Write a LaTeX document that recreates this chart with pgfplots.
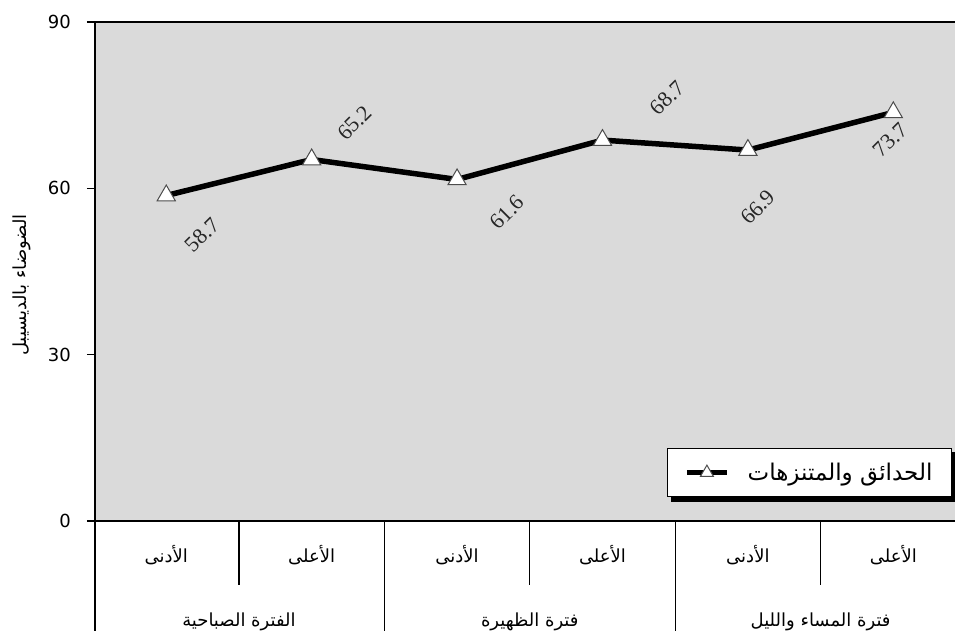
\documentclass[border=0pt]{standalone}
\usepackage{pgfplots}
\pgfplotsset{compat=1.18}
\usepackage{pgfplotstable}
\usepackage{fontspec}
\setmainfont{DejaVu Sans}
\newfontfamily\arabicfont[Script=Arabic]{DejaVu Sans}
\newfontfamily\labfont{Liberation Serif}
\TeXXeTstate=1
\definecolor{bgray}{RGB}{218,218,218}

\pgfplotstableread{
x y
0 58.7
1 65.2
2 61.6
3 68.7
4 66.9
5 73.7
}\noise
\pgfplotstableread{
lx ly lab
0.248 51.6 58.7
1.296 71.8 65.2
2.344 55.7 61.6
3.447 76.3 68.7
4.069 56.6 66.9
4.979 68.7 73.7
}\labels

\begin{document}
\begin{tikzpicture}
\begin{axis}[
  scale only axis, width=871bp, height=499bp,
  xmin=-0.49, xmax=5.5, ymin=0, ymax=90,
  clip=false,
  axis background/.style={fill=bgray},
  axis line style={line width=1.5bp, black},
  xtick={0,...,5},
  xticklabels={{\arabicfont\beginR الأدنى\endR},{\arabicfont\beginR الأعلى\endR},{\arabicfont\beginR الأدنى\endR},{\arabicfont\beginR الأعلى\endR},{\arabicfont\beginR الأدنى\endR},{\arabicfont\beginR الأعلى\endR}},
  xtick style={draw=none},
  ytick={0,30,60,90},
  ytick pos=left,
  tick align=outside,
  major tick length=8bp,
  ytick style={line width=1.2bp, black},
  /pgf/number format/assume math mode=true,
  ticklabel style={font=\fontsize{18bp}{20bp}\selectfont},
  yticklabel style={anchor=east, inner sep=0pt, xshift=-16bp},
  xticklabel style={anchor=center, inner sep=0pt, yshift=-26bp},
  ylabel={{\arabicfont\beginR الضوضاء بالديسيبل\endR}},
  every axis y label/.style={at={(rel axis cs:0,0.473)}, xshift=-73bp, rotate=90, anchor=center,
     font=\fontsize{18bp}{21bp}\selectfont},
  legend style={name=leg, at={(0.984,0.1463)}, anchor=north east, draw=black, line width=1.3bp, fill=white,
     font=\fontsize{23bp}{25bp}\selectfont, inner xsep=17bp, inner ysep=12.5bp},
  legend cell align=left,
  legend image code/.code={%
     \draw[#1] (0bp,0bp) -- (40bp,0bp);
     \draw[#1, mark size=7.5bp] plot coordinates {(20bp,0bp)};},
]
\addplot[black, line width=5.5bp, mark=triangle*, mark size=10.5bp,
   mark options={fill=white, draw=black!70, line width=1bp, solid}]
   table[x=x, y=y] {\noise};
\addlegendentry{\hspace*{16bp}{\arabicfont\beginR الحدائق والمتنزهات\endR}}

\addplot[forget plot, only marks, mark=none, point meta=explicit symbolic,
   nodes near coords,
   every node near coord/.append style={anchor=center, rotate=45, inner sep=0pt,
      font=\labfont\fontsize{22bp}{24bp}\selectfont, text=black!85}]
   table[x=lx, y=ly, meta=lab] {\labels};

\draw[black, line width=1.3bp] (axis cs:0.5,0) -- ([yshift=-64bp]axis cs:0.5,0);
\draw[black, line width=1.3bp] (axis cs:2.5,0) -- ([yshift=-64bp]axis cs:2.5,0);
\draw[black, line width=1.3bp] (axis cs:4.5,0) -- ([yshift=-64bp]axis cs:4.5,0);
\draw[black, line width=1.3bp] (axis cs:1.5,0) -- ([yshift=-120bp]axis cs:1.5,0);
\draw[black, line width=1.3bp] (axis cs:3.5,0) -- ([yshift=-120bp]axis cs:3.5,0);
\draw[black, line width=1.5bp] (rel axis cs:0,0) -- ([yshift=-120bp]rel axis cs:0,0);

\node[font=\fontsize{18bp}{20bp}\selectfont, inner sep=0pt] at ([yshift=-101bp]axis cs:0.5,0) {\arabicfont\beginR الفترة الصباحية\endR};
\node[font=\fontsize{18bp}{20bp}\selectfont, inner sep=0pt] at ([yshift=-101bp]axis cs:2.5,0) {\arabicfont\beginR فترة الظهيرة\endR};
\node[font=\fontsize{18bp}{20bp}\selectfont, inner sep=0pt] at ([yshift=-101bp]axis cs:4.5,0) {\arabicfont\beginR فترة المساء والليل\endR};

\coordinate (BL) at (rel axis cs:0,0);
\coordinate (TR) at (rel axis cs:1,1);
\end{axis}
\fill[black] ([shift={(4bp,-4.5bp)}]leg.south west) rectangle ([xshift=4.5bp]leg.south east);
\fill[black] ([yshift=-4bp]leg.north east) rectangle ([xshift=4.5bp]leg.south east);
\pgfresetboundingbox
\path[use as bounding box] ([shift={(-95bp,-109bp)}]BL) rectangle ([shift={(-11bp,22bp)}]TR);
\end{tikzpicture}
\end{document}
